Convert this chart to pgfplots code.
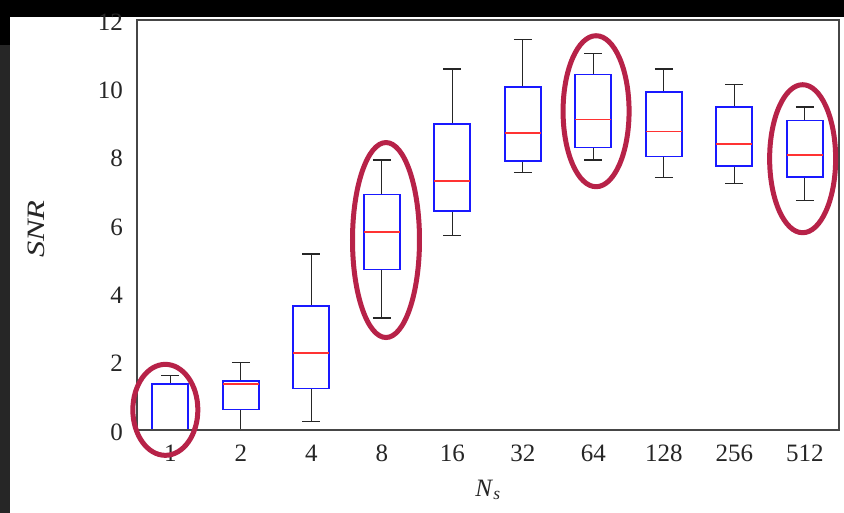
\documentclass[border=0pt]{standalone}
\usepackage{pgfplots}
\pgfplotsset{compat=1.18}
\usepackage{pgfplotstable}
\usepgfplotslibrary{statistics}
\usepackage{graphicx}
\usepackage{fontspec}
\setmainfont{Liberation Serif}

\definecolor{ringred}{RGB}{183,34,72}
\definecolor{stripgray}{RGB}{38,38,38}
\definecolor{boxblue}{RGB}{25,25,255}
\definecolor{medred}{RGB}{255,50,50}
\definecolor{framegray}{RGB}{70,70,70}

% SNR statistics per number of samples N_s
\pgfplotstableread{
pos lw   lq   med  uq    uw
0   0.00 0.00 0.00 1.35  1.60
1   0.00 0.60 1.34 1.43  1.97
2   0.24 1.21 2.26 3.63  5.15
3   3.28 4.70 5.80 6.89  7.90
4   5.70 6.41 7.28 8.95  10.57
5   7.54 7.87 8.69 10.04 11.43
6   7.90 8.27 9.09 10.40 11.01
7   7.40 8.01 8.74 9.89  10.57
8   7.22 7.73 8.37 9.45  10.11
9   6.72 7.40 8.05 9.06  9.45
}\boxdata

\begin{document}
\begin{tikzpicture}
% page background and dark edges
\fill[white] (0,0) rectangle (844bp,513bp);
\fill[black] (0,496bp) rectangle (844bp,513bp);
\fill[black] (0,468bp) rectangle (10bp,513bp);
\fill[stripgray] (0,0) rectangle (10bp,468bp);
\useasboundingbox (0,0) rectangle (844bp,513bp);

\begin{axis}[
  at={(137bp,83bp)}, anchor=south west,
  scale only axis, width=702bp, height=410bp,
  xmin=-0.472, xmax=9.486, ymin=0, ymax=12,
  axis on top,
  axis line style={framegray, line width=1.3bp},
  xtick={0,...,9},
  xticklabels={1,2,4,8,16,32,64,128,256,512},
  ytick={0,2,...,12},
  major tick length=0pt,
  tick style={draw=none},
  /pgf/number format/assume math mode=true,
  tick label style={font=\fontsize{25bp}{29bp}\selectfont, text=black!85, inner sep=0pt},
  yticklabel style={anchor=east, xshift=-14bp, yshift=-2bp},
  xticklabel style={anchor=north, yshift=-15bp},
  xlabel={\textit{N}\textsubscript{\textit{s}}},
  ylabel={\scalebox{1.3}[1]{\textit{SNR}}},
  every axis x label/.style={at={(axis description cs:0.5,-0.146)}, anchor=center,
    font=\fontsize{25bp}{30bp}\selectfont, text=black!85},
  every axis y label/.style={at={(axis description cs:-0.144,0.49)}, anchor=center, rotate=90,
    font=\fontsize{25bp}{30bp}\selectfont, text=black!85},
  boxplot/draw direction=y,
  boxplot/box extend=0.51,
  boxplot/whisker extend=0.25,
  boxplot/every box/.style={draw=boxblue, color=boxblue, solid, line width=1.6bp},
  boxplot/every median/.style={draw=medred, color=medred, solid, line width=1.6bp},
  boxplot/every whisker/.style={draw=black!85, solid, line width=1.3bp},
  clip=false,
]
\pgfplotsinvokeforeach{0,...,9}{
  \pgfplotstablegetelem{#1}{lw}\of\boxdata \let\vlw\pgfplotsretval
  \pgfplotstablegetelem{#1}{lq}\of\boxdata \let\vlq\pgfplotsretval
  \pgfplotstablegetelem{#1}{med}\of\boxdata \let\vmed\pgfplotsretval
  \pgfplotstablegetelem{#1}{uq}\of\boxdata \let\vuq\pgfplotsretval
  \pgfplotstablegetelem{#1}{uw}\of\boxdata \let\vuw\pgfplotsretval
  \edef\drawbox{\noexpand\addplot[line width=1.3bp, solid, mark=none,
    boxplot prepared={draw position=#1,
      lower whisker=\vlw, lower quartile=\vlq, median=\vmed,
      upper quartile=\vuq, upper whisker=\vuw}] coordinates {};}
  \drawbox
}
\coordinate (r1) at (axis cs:-0.07,0.59);
\coordinate (r8) at (axis cs:3.06,5.56);
\coordinate (r64) at (axis cs:6.04,9.33);
\coordinate (r512) at (axis cs:8.97,7.94);
\end{axis}

% highlight rings
\begin{scope}[ringred, line width=5bp]
\draw (r1) ellipse [x radius=32.5bp, y radius=45.5bp];
\draw (r8) ellipse [x radius=33.5bp, y radius=97.5bp];
\draw (r64) ellipse [x radius=33bp, y radius=75.5bp];
\draw (r512) ellipse [x radius=33bp, y radius=74bp];
\end{scope}
\end{tikzpicture}
\end{document}
